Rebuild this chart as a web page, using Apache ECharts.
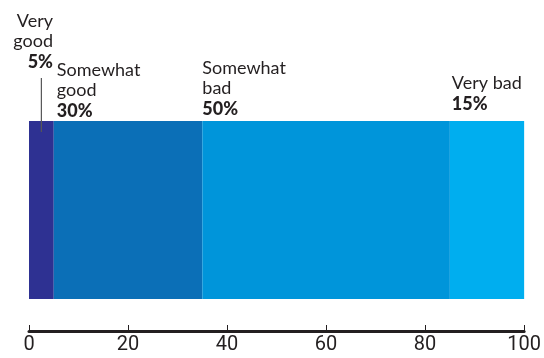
<!DOCTYPE html>
<html>
<head>
<meta charset="utf-8">
<style>
  html, body { margin: 0; padding: 0; background: #ffffff; }
  #chart { width: 544px; height: 358px; }
</style>
<script src="https://cdn.jsdelivr.net/npm/echarts@6/dist/echarts.min.js"></script>
</head>
<body>
<div id="chart"></div>
<script>
// Survey answer shares (percent), stacked into one horizontal bar
const categories = ['Very good', 'Somewhat good', 'Somewhat bad', 'Very bad'];
const labelNames = ['Very\ngood', 'Somewhat\ngood', 'Somewhat\nbad', 'Very bad'];
const shares = [5, 30, 50, 15];
const colors = ['#2e3192', '#0b6fb7', '#0095da', '#00aeef'];
const xTicks = [0, 20, 40, 60, 80, 100];

const textColor = '#231f20';
const font = 'Lato, "Open Sans", sans-serif';

// Label placement relative to each segment's top-left corner
const labelPlacement = [
  { position: [24, -49], align: 'right' },
  { position: [3, 0], align: 'left' },
  { position: [0, -2], align: 'left' },
  { position: [2, -7], align: 'left' }
];

const series = categories.map((name, i) => ({
  name: name,
  type: 'bar',
  stack: 'total',
  barWidth: '100%',
  data: [shares[i]],
  itemStyle: { color: colors[i] },
  silent: true,
  label: {
    show: true,
    position: labelPlacement[i].position,
    align: labelPlacement[i].align,
    verticalAlign: 'bottom',
    formatter: () => labelNames[i].split('\n').map(s => '{n|' + s + '}').join('\n') + '\n{b|' + shares[i] + '%}',
    rich: {
      n: { fontFamily: font, fontSize: 18, lineHeight: 20.5, color: textColor, align: labelPlacement[i].align },
      b: { fontFamily: font, fontSize: 18, lineHeight: 20.5, fontWeight: 900, color: textColor, align: labelPlacement[i].align }
    }
  }
}));

const chart = echarts.init(document.getElementById('chart'), null, { renderer: 'canvas' });
chart.setOption({
  animation: false,
  grid: { left: 29, right: 19, top: 121, bottom: 59, containLabel: false },
  xAxis: {
    type: 'value',
    min: xTicks[0],
    max: xTicks[xTicks.length - 1],
    interval: xTicks[1] - xTicks[0],
    offset: 32,
    splitLine: { show: false },
    axisLine: { show: true, lineStyle: { color: textColor, width: 3 } },
    axisTick: { show: true, inside: true, length: 6, lineStyle: { color: textColor, width: 1 } },
    axisLabel: {
      color: textColor,
      fontFamily: 'Roboto, sans-serif',
      fontSize: 20,
      margin: 4,
      formatter: v => String(v)
    }
  },
  yAxis: {
    type: 'category',
    data: ['Share'],
    show: false
  },
  series: series
});

// Leader line from the "Very good" label down into its segment
const midX = chart.convertToPixel({ xAxisIndex: 0 }, shares[0] / 2);
chart.setOption({
  graphic: [{
    type: 'line',
    shape: { x1: midX, y1: 78, x2: midX, y2: 132 },
    style: { stroke: '#555558', lineWidth: 1.2 },
    silent: true,
    z: 100
  }]
});
</script>
</body>
</html>
